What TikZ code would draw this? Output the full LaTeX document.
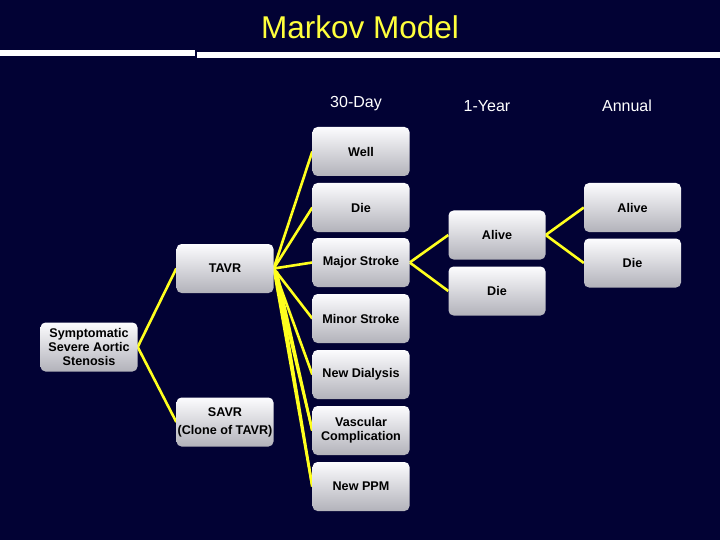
\documentclass[tikz,border=0pt]{standalone}
\usepackage{fontspec}
\setmainfont{Liberation Sans}
\usetikzlibrary{calc,backgrounds}
\definecolor{bgnavy}{RGB}{2,2,52}
\definecolor{linkyellow}{RGB}{255,255,30}
\definecolor{titleyellow}{RGB}{255,255,60}
\definecolor{boxtop}{RGB}{252,252,254}
\definecolor{boxbot}{RGB}{178,178,186}
\tikzset{
  statebox/.style={rounded corners=5pt, top color=boxtop, bottom color=boxbot,
    minimum width=97pt, minimum height=49pt, inner sep=1pt, align=center,
    font=\fontsize{12.6}{14}\selectfont\bfseries, text=black},
  link/.style={draw=linkyellow, line width=2.6pt},
  hdr/.style={text=white, font=\fontsize{16}{18}\selectfont, inner sep=0pt},
}
\begin{document}
\begin{tikzpicture}[x=1pt,y=-1pt]
\useasboundingbox (0,0) rectangle (720,540);
% title
\node[text=titleyellow, font=\fontsize{31.5}{34}\selectfont, inner sep=0pt] (title) at (360,27) {Markov Model};
% headers
\node[hdr] (h30) at (356,104) {30-Day};
\node[hdr] (h1y) at (487,106) {1-Year};
\node[hdr] (han) at (627,106) {Annual};
% nodes
\node[statebox] (sym) at (89,347) {Symptomatic\\Severe Aortic\\Stenosis};
\node[statebox] (tavr) at (225,268.5) {TAVR};
\node[statebox] (savr) at (225,422) {SAVR\\[4pt](Clone of TAVR)};
\node[statebox] (well) at (361,151.5) {Well};
\node[statebox] (die30) at (361,207.5) {Die};
\node[statebox] (major) at (361,262.5) {Major Stroke};
\node[statebox] (minor) at (361,318.5) {Minor Stroke};
\node[statebox] (dial) at (361,374.5) {New Dialysis};
\node[statebox] (vasc) at (361,430.5) {Vascular\\Complication};
\node[statebox] (ppm) at (361,486.5) {New PPM};
\node[statebox] (alive1) at (497,235) {Alive};
\node[statebox] (die1) at (497,291) {Die};
\node[statebox] (alive2) at (632.5,207.5) {Alive};
\node[statebox] (die2) at (632.5,263) {Die};
% background and connectors
\begin{scope}[on background layer]
\fill[bgnavy] (0,0) rectangle (720,540);
\draw[link] (sym.east) -- (tavr.west);
\draw[link] (sym.east) -- (savr.west);
\foreach \t in {well,die30,major,minor,dial,vasc,ppm}
  \draw[link] (tavr.east) -- (\t.west);
\draw[link] ($(tavr.east)+(3,3)$) -- (vasc.west);
\draw[link] ($(tavr.east)+(3,3)$) -- (ppm.west);
\draw[link] (major.east) -- (alive1.west);
\draw[link] (major.east) -- (die1.west);
\draw[link] (alive1.east) -- (alive2.west);
\draw[link] (alive1.east) -- (die2.west);
\end{scope}
% white rules under the title
\fill[white] (0,50) rectangle (195,56);
\fill[white] (197,52.5) rectangle (720,58.5);
\end{tikzpicture}
\end{document}
